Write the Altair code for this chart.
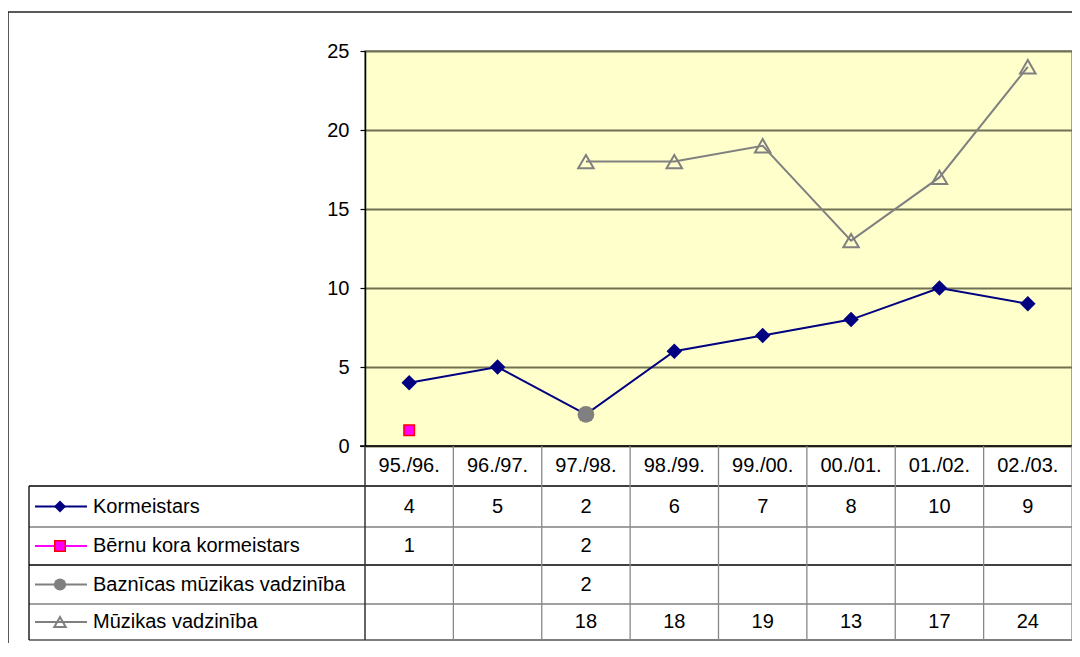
import altair as alt
import pandas as pd

# ---------------- data ----------------
cats = ["95./96.", "96./97.", "97./98.", "98./99.", "99./00.", "00./01.", "01./02.", "02./03."]
series_names = ["Kormeistars", "Bērnu kora kormeistars",
                "Baznīcas mūzikas vadzinība", "Mūzikas vadzinība"]
kormeistars = [4, 5, 2, 6, 7, 8, 10, 9]
bernu = [1, None, 2, None, None, None, None, None]
baznicas = [None, None, 2, None, None, None, None, None]
muzikas = [None, None, 18, 18, 19, 13, 17, 24]
y_ticks = [0, 5, 10, 15, 20, 25]

all_vals = [kormeistars, bernu, baznicas, muzikas]
rows = []
for s, vals in zip(series_names, all_vals):
    for c, v in zip(cats, vals):
        if v is not None:
            rows.append({"cat": c, "series": s, "value": v, "label": str(v)})
df = pd.DataFrame(rows)


def sub(name):
    return df[df["series"] == name]


# ---------------- layout ----------------
W, H = 707, 395
PAD_L, PAD_T = 357, 43
TOTAL_W, TOTAL_H = 1064, 635
PAD_R = TOTAL_W - PAD_L - W
PAD_B = TOTAL_H - PAD_T - H

FONT = "Liberation Sans"
FS = 20
NAVY = "#000080"
GRAY = "#808080"
LINEGRAY = "#888888"

# table geometry (relative to plot origin)
row_lines = [H, H + 40, H + 81, H + 119, H + 158, H + 194]
row_centers = [(row_lines[i] + row_lines[i + 1]) / 2 for i in range(5)]
TABLE_LEFT = -336
LEG_LINE_X1, LEG_LINE_X2, LEG_SYM_X, LEG_TEXT_X = -330, -278, -305, -272

X = alt.X("cat:N", scale=alt.Scale(type="point", domain=cats, padding=0.5), axis=None)
Y = alt.Y("value:Q",
          scale=alt.Scale(domain=[0, 25], nice=False),
          axis=alt.Axis(values=y_ticks, title=None, tickSize=5, labelPadding=11,
                        labelFont=FONT, labelFontSize=FS, labelColor="black",
                        domainColor="black", domainWidth=1.5, tickColor="black",
                        tickWidth=1.2, grid=True, gridColor="#707052", gridWidth=1.8))

layers = []

dummy = pd.DataFrame({"d": [0]})


def hrule(y, x1, x2, color, w=1.3):
    return alt.Chart(dummy).mark_rule(color=color, strokeWidth=w).encode(
        x=alt.value(x1), x2=alt.value(x2), y=alt.value(y))


def vrule(x, y1, y2, color, w=1.3):
    return alt.Chart(dummy).mark_rule(color=color, strokeWidth=w).encode(
        x=alt.value(x), y=alt.value(y1), y2=alt.value(y2))


# series lines and markers
layers.append(alt.Chart(sub("Kormeistars")).mark_line(color=NAVY, strokeWidth=2).encode(x=X, y=Y))
layers.append(alt.Chart(sub("Kormeistars")).mark_point(
    shape="diamond", filled=True, color=NAVY, size=240, opacity=1).encode(x=X, y=Y))
layers.append(alt.Chart(sub("Bērnu kora kormeistars")).mark_point(
    shape="square", filled=True, fill="#FF00FF", stroke="#FF0000", strokeWidth=1.5,
    size=110, opacity=1).encode(x=X, y=Y))
layers.append(alt.Chart(sub("Baznīcas mūzikas vadzinība")).mark_point(
    shape="circle", filled=True, color=GRAY, size=280, opacity=1).encode(x=X, y=Y))
layers.append(alt.Chart(sub("Mūzikas vadzinība")).mark_line(color=GRAY, strokeWidth=2).encode(x=X, y=Y))
layers.append(alt.Chart(sub("Mūzikas vadzinība")).mark_point(
    shape="triangle-up", filled=False, stroke=GRAY, strokeWidth=2, size=240,
    opacity=1).encode(x=X, y=Y))

# outer frame (left & top visible)
layers.append(hrule(-39, -357, W, "#222222", 1.5))
layers.append(vrule(-357, -39, TOTAL_H, "#222222", 1.5))

# plot bottom axis line
layers.append(hrule(H, -5, W, "black", 1.5))

# table horizontal lines
line_colors = ["black", "black", GRAY, "black", GRAY, "#555555"]
for i in range(1, 6):
    layers.append(hrule(row_lines[i], TABLE_LEFT, W, line_colors[i]))

# table vertical lines
layers.append(vrule(TABLE_LEFT, row_lines[1], row_lines[5], "black"))
layers.append(vrule(0, row_lines[0], row_lines[5], "#333333", 1.5))
layers.append(vrule(W, row_lines[0], row_lines[5], LINEGRAY))
layers.append(alt.Chart(pd.DataFrame({"cat": cats[1:]})).mark_rule(
    color=LINEGRAY, strokeWidth=1.3, xOffset=-W / 16).encode(
    x=X, y=alt.value(row_lines[0]), y2=alt.value(row_lines[5])))

# header row text
layers.append(alt.Chart(pd.DataFrame({"cat": cats})).mark_text(
    font=FONT, fontSize=FS, color="black", baseline="middle", align="center").encode(
    x=X, y=alt.value(row_centers[0]), text="cat:N"))

# series rows: values, legend symbols and labels
sym_styles = [
    dict(shape="diamond", filled=True, color=NAVY, size=144, opacity=1),
    dict(shape="square", filled=True, fill="#FF00FF", stroke="#FF0000", strokeWidth=1.5, size=110, opacity=1),
    dict(shape="circle", filled=True, color=GRAY, size=150, opacity=1),
    dict(shape="triangle-up", filled=False, stroke=GRAY, strokeWidth=2, size=130, opacity=1),
]
line_cols = [NAVY, "#FF00FF", GRAY, GRAY]
for i, s in enumerate(series_names):
    yc = row_centers[i + 1]
    layers.append(alt.Chart(sub(s)).mark_text(
        font=FONT, fontSize=FS, color="black", baseline="middle", align="center").encode(
        x=X, y=alt.value(yc), text="label:N"))
    layers.append(hrule(yc, LEG_LINE_X1, LEG_LINE_X2, line_cols[i], 2))
    layers.append(alt.Chart(pd.DataFrame({"series": [s]})).mark_point(**sym_styles[i]).encode(
        x=alt.value(LEG_SYM_X), y=alt.value(yc)))
    layers.append(alt.Chart(pd.DataFrame({"series": [s]})).mark_text(
        font=FONT, fontSize=FS, color="black", baseline="middle", align="left").encode(
        x=alt.value(LEG_TEXT_X), y=alt.value(yc), text="series:N"))

chart = alt.layer(*layers).properties(
    width=W, height=H,
    padding={"left": PAD_L, "top": PAD_T, "right": PAD_R, "bottom": PAD_B},
    autosize=alt.AutoSizeParams(type="none"),
    background="white",
).configure_view(fill="#FFFFCC", stroke=LINEGRAY, strokeWidth=1.5)

chart.save("out.html", embed_options={"renderer": "svg", "actions": False})
